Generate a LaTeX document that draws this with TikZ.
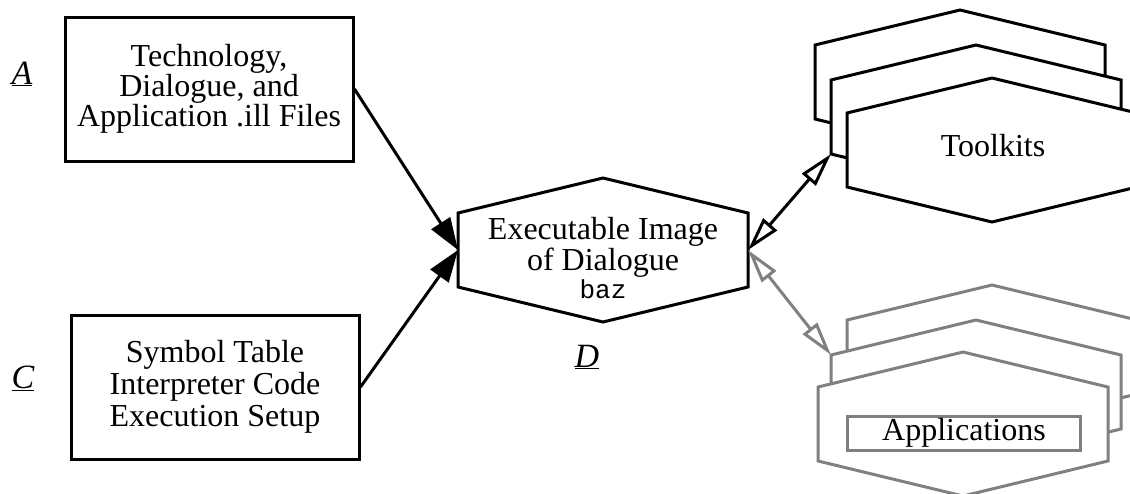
\documentclass[tikz,border=0pt]{standalone}
\usepackage{fontspec}
\setmainfont{Liberation Serif}
\setmonofont{Liberation Mono}
\usetikzlibrary{arrows.meta}
\definecolor{appgray}{gray}{0.5}

\tikzset{
  hexa/.pic={
    \draw[pic actions] (-145,-37) coordinate (-nw) -- (0,-72) coordinate (-n)
      -- (145,-37) coordinate (-ne) -- (145,37) coordinate (-se)
      -- (0,72) coordinate (-s) -- (-145,37) coordinate (-sw) -- cycle;
    \coordinate (-w) at (-145,0);
    \coordinate (-e) at (145,0);
  }
}

\begin{document}
\begin{tikzpicture}
[x=1pt,y=-1pt,line width=3pt,
 every node/.style={font=\fontsize{32}{28}\selectfont,align=center},
 filebox/.style={draw,minimum width=288pt,minimum height=144pt},
 tag/.style={anchor=base,font=\fontsize{34}{34}\selectfont},
 solid head/.style={-{Triangle[length=32pt,width=22pt]}},
 open heads/.style={{Triangle[open,length=34pt,width=18pt]}-{Triangle[open,length=34pt,width=18pt]}}]
\clip (0,0) rectangle (1130,493);
% inputs
\node[filebox] (fileA) at (209,89) {Technology,\\Dialogue, and\\Application .ill Files};
\node[filebox,font=\fontsize{32}{32}\selectfont] (fileC) at (215,387) {Symbol Table\\Interpreter Code\\Execution Setup};
\node[tag] (labA) at (22,84) {\underline{\textit{A}}};
\node[tag] (labC) at (23,388) {\underline{\textit{C}}};
% executable image
\pic (dlgh) at (603,250) {hexa};
\node (dlg) at (603,258) {\fontsize{32}{32}\selectfont Executable Image\\of Dialogue\\\fontsize{26}{32}\selectfont\ttfamily baz};
\node[tag] (labD) at (587,367) {\underline{\textit{D}}};
% toolkits
\foreach \n/\x/\y in {1/960/82,2/976/117,3/992/150}
  \pic[fill=white] (tk\n) at (\x,\y) {hexa};
\node (tk) at (993,146) {Toolkits};
% applications
\foreach \n/\x/\y in {1/992/357,2/976/392,3/963/424}
  \pic[draw=appgray,fill=white] (ap\n) at (\x,\y) {hexa};
\node[draw=appgray,minimum width=233pt,minimum height=34pt,inner sep=0pt] (ap) at (964,433) {Applications};
% connections
\foreach \from in {fileA.east,fileC.east}
  \draw[solid head] (\from) -- (dlgh-w);
\draw[open heads] (dlgh-e) -- (tk2-sw);
\draw[open heads,appgray] (dlgh-e) -- (ap2-nw);
\end{tikzpicture}
\end{document}
